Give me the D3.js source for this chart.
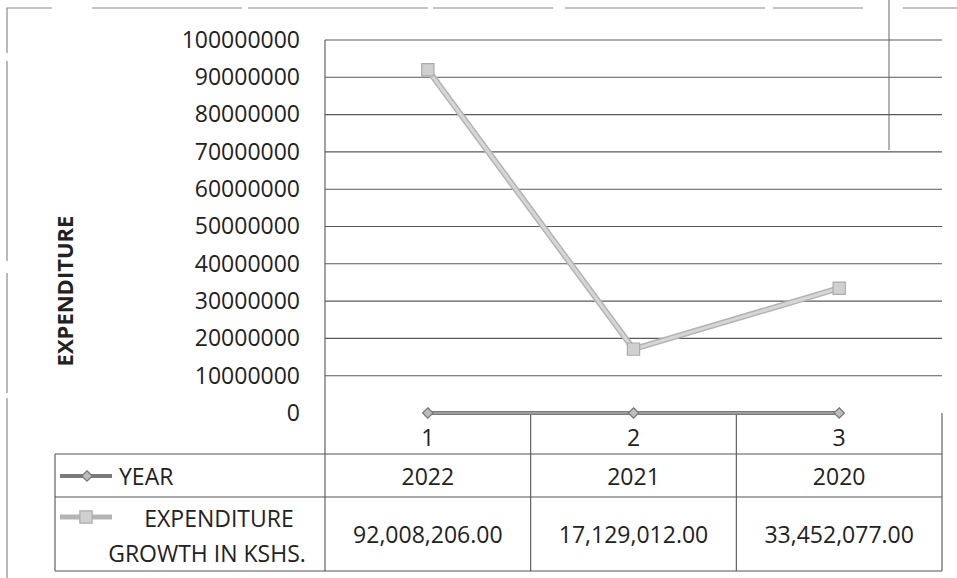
<!DOCTYPE html>
<html>
<head>
<meta charset="utf-8">
<script src="https://cdn.jsdelivr.net/npm/d3@7"></script>
<style>
  body { margin: 0; background: #fff; }
  svg { display: block; font-family: "Open Sans", sans-serif; }
</style>
</head>
<body>
<div id="svg-container"></div>
<script>
// data
const categories = [1, 2, 3];
const years = [2022, 2021, 2020];
const expenditure = [92008206, 17129012, 33452077];
const yTicks = [0, 10000000, 20000000, 30000000, 40000000, 50000000, 60000000, 70000000, 80000000, 90000000, 100000000];
const seriesNames = ["YEAR", "EXPENDITURE GROWTH IN KSHS."];

const width = 957, height = 578;
const margin = { top: 40, right: 15, bottom: 165, left: 325 };
const tableLeft = 55;
const rowY = [413, 454, 497, 571]; // axis, cat row bottom, year row bottom, table bottom
const fs = 23;

const svg = d3.select("#svg-container").append("svg")
  .attr("width", width).attr("height", height);

const xScale = d3.scaleBand().domain(categories).range([margin.left, width - margin.right]);
const yScale = d3.scaleLinear().domain([0, 100000000]).range([height - margin.bottom, margin.top]);
const xc = (d) => xScale(d) + xScale.bandwidth() / 2;

const formatVal = d3.format(",.2f");

// outer frame (scanned, faint)
svg.append("path")
  .attr("d", `M7,${height} V8 H${width}`)
  .attr("fill", "none").attr("stroke", "#8a8a8a").attr("stroke-width", 1.2)
  .attr("stroke-dasharray", "180 5 120 12 200 8 90 40 150 6");
svg.append("line")
  .attr("x1", 889).attr("x2", 889).attr("y1", 0).attr("y2", 150)
  .attr("stroke", "#666").attr("stroke-width", 1);

// gridlines
svg.append("g").selectAll("line").data(yTicks.slice(1)).join("line")
  .attr("x1", margin.left).attr("x2", width - margin.right)
  .attr("y1", (d) => yScale(d)).attr("y2", (d) => yScale(d))
  .attr("stroke", "#5a5a5a").attr("stroke-width", 1.1);

// y axis
const yAxis = d3.axisLeft(yScale).tickValues(yTicks).tickSize(0).tickPadding(25).tickFormat(d3.format("d"));
const gy = svg.append("g").attr("transform", `translate(${margin.left},0)`).call(yAxis);
gy.select(".domain").remove();
gy.selectAll("text").attr("font-size", fs).attr("fill", "#222").attr("font-family", "Open Sans");

// y title
svg.append("text")
  .attr("transform", "translate(73,291) rotate(-90)")
  .attr("text-anchor", "middle")
  .attr("font-size", 22).attr("font-weight", "bold").attr("fill", "#222")
  .text("EXPENDITURE");

// table grid
const tg = svg.append("g").attr("stroke", "#555").attr("stroke-width", 1.1);
tg.append("line").attr("x1", margin.left).attr("x2", margin.left).attr("y1", margin.top).attr("y2", rowY[3]);
tg.append("line").attr("x1", tableLeft).attr("x2", tableLeft).attr("y1", rowY[1]).attr("y2", rowY[3]);
[1, 2, 3].forEach((i) => {
  tg.append("line").attr("x1", tableLeft).attr("x2", width - margin.right).attr("y1", rowY[i]).attr("y2", rowY[i]);
});
tg.selectAll(".vcol").data(categories).join("line")
  .attr("x1", (d) => xScale(d) + xScale.bandwidth()).attr("x2", (d) => xScale(d) + xScale.bandwidth())
  .attr("y1", rowY[0]).attr("y2", rowY[3]);

// category labels
svg.append("g").selectAll("text").data(categories).join("text")
  .attr("x", xc).attr("y", 446).attr("text-anchor", "middle")
  .attr("font-size", fs).attr("fill", "#222").text((d) => d);

// table values
svg.append("g").selectAll("text").data(years).join("text")
  .attr("x", (d, i) => xc(categories[i])).attr("y", 485).attr("text-anchor", "middle")
  .attr("font-size", fs).attr("fill", "#222").text((d) => d);
svg.append("g").selectAll("text").data(expenditure).join("text")
  .attr("x", (d, i) => xc(categories[i])).attr("y", 543).attr("text-anchor", "middle")
  .attr("font-size", fs).attr("fill", "#222").text((d) => formatVal(d));

// legend labels in table
svg.append("text").attr("x", 119).attr("y", 485).attr("font-size", fs).attr("fill", "#222").text(seriesNames[0]);
svg.append("text").attr("x", 219).attr("y", 527).attr("text-anchor", "middle").attr("font-size", fs).attr("fill", "#222").text("EXPENDITURE");
svg.append("text").attr("x", 207).attr("y", 562).attr("text-anchor", "middle").attr("font-size", fs).attr("fill", "#222").text("GROWTH IN KSHS.");

// lines
const line = d3.line().x((d) => xc(d.cat)).y((d) => yScale(d.v));
const yearData = categories.map((c, i) => ({ cat: c, v: years[i] }));
const expData = categories.map((c, i) => ({ cat: c, v: expenditure[i] }));

const diamond = d3.symbol().type(d3.symbolDiamond2).size(70);
const square = d3.symbol().type(d3.symbolSquare).size(150);

// year series (at ~0)
svg.append("path").datum(yearData).attr("d", line)
  .attr("fill", "none").attr("stroke", "#7a7a7a").attr("stroke-width", 4);
svg.append("path").datum(yearData).attr("d", line)
  .attr("fill", "none").attr("stroke", "#aaa").attr("stroke-width", 1.3);
svg.append("g").selectAll("path").data(yearData).join("path")
  .attr("transform", (d) => `translate(${xc(d.cat)},${yScale(d.v)})`)
  .attr("d", diamond).attr("fill", "#bdbdbd").attr("stroke", "#777").attr("stroke-width", 1.2);

// expenditure series
svg.append("path").datum(expData).attr("d", line)
  .attr("fill", "none").attr("stroke", "#b4b4b4").attr("stroke-width", 6);
svg.append("path").datum(expData).attr("d", line)
  .attr("fill", "none").attr("stroke", "#d6d6d6").attr("stroke-width", 3);
svg.append("g").selectAll("path").data(expData).join("path")
  .attr("transform", (d) => `translate(${xc(d.cat)},${yScale(d.v)})`)
  .attr("d", square).attr("fill", "#d0d0d0").attr("stroke", "#ababab").attr("stroke-width", 1.2);

// legend keys
svg.append("line").attr("x1", 60).attr("x2", 112).attr("y1", 476).attr("y2", 476)
  .attr("stroke", "#7a7a7a").attr("stroke-width", 4);
svg.append("path").attr("transform", "translate(87,476)").attr("d", diamond)
  .attr("fill", "#bdbdbd").attr("stroke", "#777").attr("stroke-width", 1.2);
svg.append("line").attr("x1", 60).attr("x2", 112).attr("y1", 517).attr("y2", 517)
  .attr("stroke", "#b4b4b4").attr("stroke-width", 5);
svg.append("path").attr("transform", "translate(86,517)").attr("d", square)
  .attr("fill", "#d0d0d0").attr("stroke", "#ababab").attr("stroke-width", 1.2);
</script>
</body>
</html>
